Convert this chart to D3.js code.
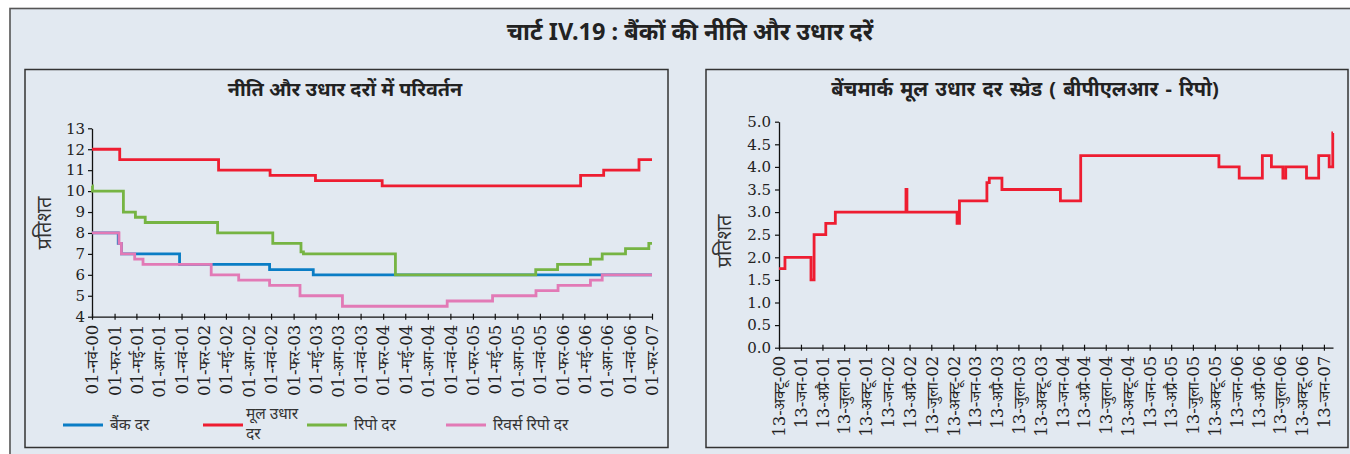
<!DOCTYPE html>
<html>
<head>
<meta charset="utf-8">
<script src="https://cdn.jsdelivr.net/npm/d3@7"></script>
<style>
  html, body { margin: 0; padding: 0; background: #ffffff; }
  svg { display: block; }
  .dev { font-family: "Noto Sans", "Noto Sans Devanagari", "Lohit Devanagari", "FreeSans", "DejaVu Sans", sans-serif; }
  .num { font-family: "DejaVu Serif", "Noto Serif Devanagari", "FreeSerif", "Noto Sans Devanagari", serif; }
</style>
</head>
<body>
<svg id="chart" width="1350" height="454"></svg>
<script>
// ---- Policy and lending rates (per cent), step changes ----
const bankDates = ["2000-11-01", "2001-02-16", "2001-03-01", "2001-10-24", "2002-10-26", "2003-04-22", "2007-02-01"];
const bankRate  = [8, 7.5, 7, 6.5, 6.25, 6, 6];

const plrDates = ["2000-11-01", "2001-02-22", "2002-04-01", "2002-10-28", "2003-05-01", "2004-01-28", "2006-04-16", "2006-07-19", "2006-12-10", "2007-02-01"];
const plrRate  = [12, 11.5, 11, 10.75, 10.5, 10.25, 10.75, 11, 11.5, 11.5];

const repoDates = ["2000-11-01", "2000-11-03", "2001-03-09", "2001-04-27", "2001-06-06", "2002-03-28", "2002-11-08", "2003-03-03", "2003-03-13", "2004-03-22", "2005-10-15", "2006-01-12", "2006-05-26", "2006-07-13", "2006-10-16", "2007-01-19", "2007-02-01"];
const repoRate  = [10.25, 10, 9, 8.75, 8.5, 8, 7.5, 7.1, 7, 6, 6.25, 6.5, 6.75, 7, 7.25, 7.5, 7.5];

const revRepoDates = ["2000-11-01", "2001-02-19", "2001-03-01", "2001-04-24", "2001-05-28", "2002-03-02", "2002-06-22", "2002-10-26", "2003-02-27", "2003-08-19", "2004-10-19", "2005-04-22", "2005-10-16", "2006-01-14", "2006-05-26", "2006-07-13", "2007-02-01"];
const revRepoRate  = [8, 7.5, 7, 6.75, 6.5, 6, 5.75, 5.5, 5, 4.5, 4.75, 5, 5.25, 5.5, 5.75, 6, 6];

const leftTickLabels = ["01-नवं-00", "01-फर-01", "01-मई-01", "01-अग-01", "01-नवं-01", "01-फर-02", "01-मई-02", "01-अग-02", "01-नवं-02", "01-फर-03", "01-मई-03", "01-अग-03", "01-नवं-03", "01-फर-04", "01-मई-04", "01-अग-04", "01-नवं-04", "01-फर-05", "01-मई-05", "01-अग-05", "01-नवं-05", "01-फर-06", "01-मई-06", "01-अग-06", "01-नवं-06", "01-फर-07"];
const leftYTicks = [4, 5, 6, 7, 8, 9, 10, 11, 12, 13];

const seriesNames  = ["बैंक दर", "मूल उधार दर", "रिपो दर", "रिवर्स रिपो दर"];
const seriesColors = ["#0a7dc5", "#ee1d31", "#76b443", "#e27ab6"];

// ---- Benchmark PLR spread over repo (per cent) ----
const spreadDates  = ["2000-10-13", "2000-11-07", "2001-02-24", "2001-03-09", "2001-04-27", "2001-06-06", "2002-03-29", "2002-04-02", "2002-10-29", "2002-11-08", "2003-03-03", "2003-03-13", "2003-05-05", "2004-01-05", "2004-03-30", "2005-10-30", "2006-01-23", "2006-04-30", "2006-06-07", "2006-07-25", "2006-08-06", "2006-11-01", "2006-12-22", "2007-02-04", "2007-02-19", "2007-02-20"];
const spreadValues = [1.75, 2.0, 1.5, 2.5, 2.75, 3.0, 3.5, 3.0, 2.75, 3.25, 3.65, 3.75, 3.5, 3.25, 4.25, 4.0, 3.75, 4.25, 4.0, 3.75, 4.0, 3.75, 4.25, 4.0, 4.75, 4.75];

const rightTickLabels = ["13-अक्टू-00", "13-जन-01", "13-अप्रै-01", "13-जुला-01", "13-अक्टू-01", "13-जन-02", "13-अप्रै-02", "13-जुला-02", "13-अक्टू-02", "13-जन-03", "13-अप्रै-03", "13-जुला-03", "13-अक्टू-03", "13-जन-04", "13-अप्रै-04", "13-जुला-04", "13-अक्टू-04", "13-जन-05", "13-अप्रै-05", "13-जुला-05", "13-अक्टू-05", "13-जन-06", "13-अप्रै-06", "13-जुला-06", "13-अक्टू-06", "13-जन-07"];
const rightYTicks = [0, 0.5, 1, 1.5, 2, 2.5, 3, 3.5, 4, 4.5, 5];

const mainTitle  = "चार्ट IV.19 : बैंकों की नीति और उधार दरें";
const leftTitle  = "नीति और उधार दरों में परिवर्तन";
const rightTitle = "बेंचमार्क मूल उधार दर स्प्रेड ( बीपीएलआर - रिपो)";
const yTitle     = "प्रतिशत";

// ---------------------------------------------------------------
const parse = d3.utcParse("%Y-%m-%d");
const svg = d3.select("#chart");
const BG = "#e2e9f1";

// outer frame
svg.append("rect").attr("x", 10).attr("y", 8.5).attr("width", 1350).attr("height", 460)
  .attr("fill", BG).attr("stroke", "#555").attr("stroke-width", 1.6);

svg.append("text").attr("class", "dev").attr("x", 690).attr("y", 40)
  .attr("text-anchor", "middle").attr("font-size", 23.5).attr("font-weight", "bold")
  .attr("fill", "#222").text(mainTitle);

// panels
[[25, 643], [706, 642]].forEach(([x, w]) => {
  svg.append("rect").attr("x", x).attr("y", 69.5).attr("width", w).attr("height", 378)
    .attr("fill", BG).attr("stroke", "#333").attr("stroke-width", 1.5);
});

function styleAxis(g) {
  g.selectAll(".domain").attr("stroke", "#111").attr("stroke-width", 1.3);
  g.selectAll(".tick line").attr("stroke", "#111").attr("stroke-width", 1.2);
}

function stepLine(x, y, dates, vals) {
  const pts = dates.map((d, i) => [parse(d), vals[i]]);
  return d3.line().x(p => x(p[0])).y(p => y(p[1])).curve(d3.curveStepAfter)(pts);
}

// quarterly ticks counted from the first date
function quarterTicks(start, count) {
  return d3.range(count).map(i => d3.utcMonth.offset(start, 3 * i));
}

function rotatedLabels(gx) {
  gx.selectAll(".tick line").attr("y1", -3).attr("y2", 3);
  gx.selectAll("text").attr("class", "num").attr("font-size", 16.5).attr("fill", "#222")
    .attr("text-anchor", "end").attr("transform", "rotate(-90)")
    .attr("x", -8).attr("y", 0).attr("dy", "0.35em");
}

// ================= Left panel =================
{
  const x = d3.scaleUtc().domain([parse("2000-11-01"), parse("2007-02-01")]).range([92, 652]);
  const y = d3.scaleLinear().domain([4, 13]).range([316.7, 128.3]);
  const tickDates = quarterTicks(parse("2000-11-01"), leftTickLabels.length);

  svg.append("text").attr("class", "dev").attr("x", 345).attr("y", 96)
    .attr("text-anchor", "middle").attr("font-size", 19.8).attr("font-weight", "bold")
    .attr("fill", "#222").text(leftTitle);

  const gy = svg.append("g").attr("transform", "translate(92,0)")
    .call(d3.axisLeft(y).tickValues(leftYTicks).tickSize(4).tickPadding(3).tickSizeOuter(0));
  gy.selectAll("text").attr("class", "num").attr("font-size", 15).attr("fill", "#222");
  styleAxis(gy);

  const gx = svg.append("g").attr("transform", "translate(0,316.7)")
    .call(d3.axisBottom(x).tickValues(tickDates).tickSize(4).tickSizeOuter(0)
      .tickFormat((d, i) => leftTickLabels[i]));
  rotatedLabels(gx);
  styleAxis(gx);

  svg.append("text").attr("class", "dev").attr("font-size", 20).attr("fill", "#333")
    .attr("text-anchor", "middle").attr("transform", "translate(51,223) rotate(-90)").text(yTitle);

  const series = [[bankDates, bankRate], [plrDates, plrRate], [repoDates, repoRate], [revRepoDates, revRepoRate]];
  series.forEach(([ds, vs], i) => {
    svg.append("path").attr("d", stepLine(x, y, ds, vs)).attr("fill", "none")
      .attr("stroke", seriesColors[i]).attr("stroke-width", 2.8).attr("stroke-linejoin", "miter");
  });

  // legend
  const legX = [63, 203, 307, 446];
  seriesNames.forEach((name, i) => {
    const lx = legX[i];
    svg.append("line").attr("x1", lx).attr("x2", lx + 40).attr("y1", 425).attr("y2", 425)
      .attr("stroke", seriesColors[i]).attr("stroke-width", 3);
    if (i === 1) {
      // this entry wraps onto two lines
      const parts = name.split(" ");
      svg.append("text").attr("class", "dev").attr("font-size", 15.5).attr("fill", "#333")
        .attr("x", lx + 43).attr("y", 419).text(parts.slice(0, 2).join(" "));
      svg.append("text").attr("class", "dev").attr("font-size", 15.5).attr("fill", "#333")
        .attr("x", lx + 43).attr("y", 439).text(parts[2]);
    } else {
      svg.append("text").attr("class", "dev").attr("font-size", 15.5).attr("fill", "#333")
        .attr("x", lx + 47).attr("y", 430).text(name);
    }
  });
}

// ================= Right panel =================
{
  const x = d3.scaleUtc().domain([parse("2000-10-13"), parse("2007-02-20")]).range([779, 1333]);
  const y = d3.scaleLinear().domain([0, 5]).range([347.7, 121.7]);
  const tickDates = quarterTicks(parse("2000-10-13"), rightTickLabels.length);

  svg.append("text").attr("class", "dev").attr("x", 1025).attr("y", 96)
    .attr("text-anchor", "middle").attr("font-size", 20).attr("font-weight", "bold")
    .attr("word-spacing", 2).attr("fill", "#222").text(rightTitle);

  const gy = svg.append("g").attr("transform", "translate(779,0)")
    .call(d3.axisLeft(y).tickValues(rightYTicks).tickSize(4).tickPadding(4).tickSizeOuter(0)
      .tickFormat(d3.format(".1f")));
  gy.selectAll("text").attr("class", "num").attr("font-size", 15).attr("fill", "#222");
  styleAxis(gy);

  const gx = svg.append("g").attr("transform", "translate(0,347.7)")
    .call(d3.axisBottom(x).tickValues(tickDates).tickSize(4).tickSizeOuter(0)
      .tickFormat((d, i) => rightTickLabels[i]));
  rotatedLabels(gx);
  styleAxis(gx);

  svg.append("text").attr("class", "dev").attr("font-size", 20).attr("fill", "#333")
    .attr("text-anchor", "middle").attr("transform", "translate(731,241) rotate(-90)").text(yTitle);

  svg.append("path").attr("d", stepLine(x, y, spreadDates, spreadValues)).attr("fill", "none")
    .attr("stroke", seriesColors[1]).attr("stroke-width", 2.8);
}
</script>
</body>
</html>
